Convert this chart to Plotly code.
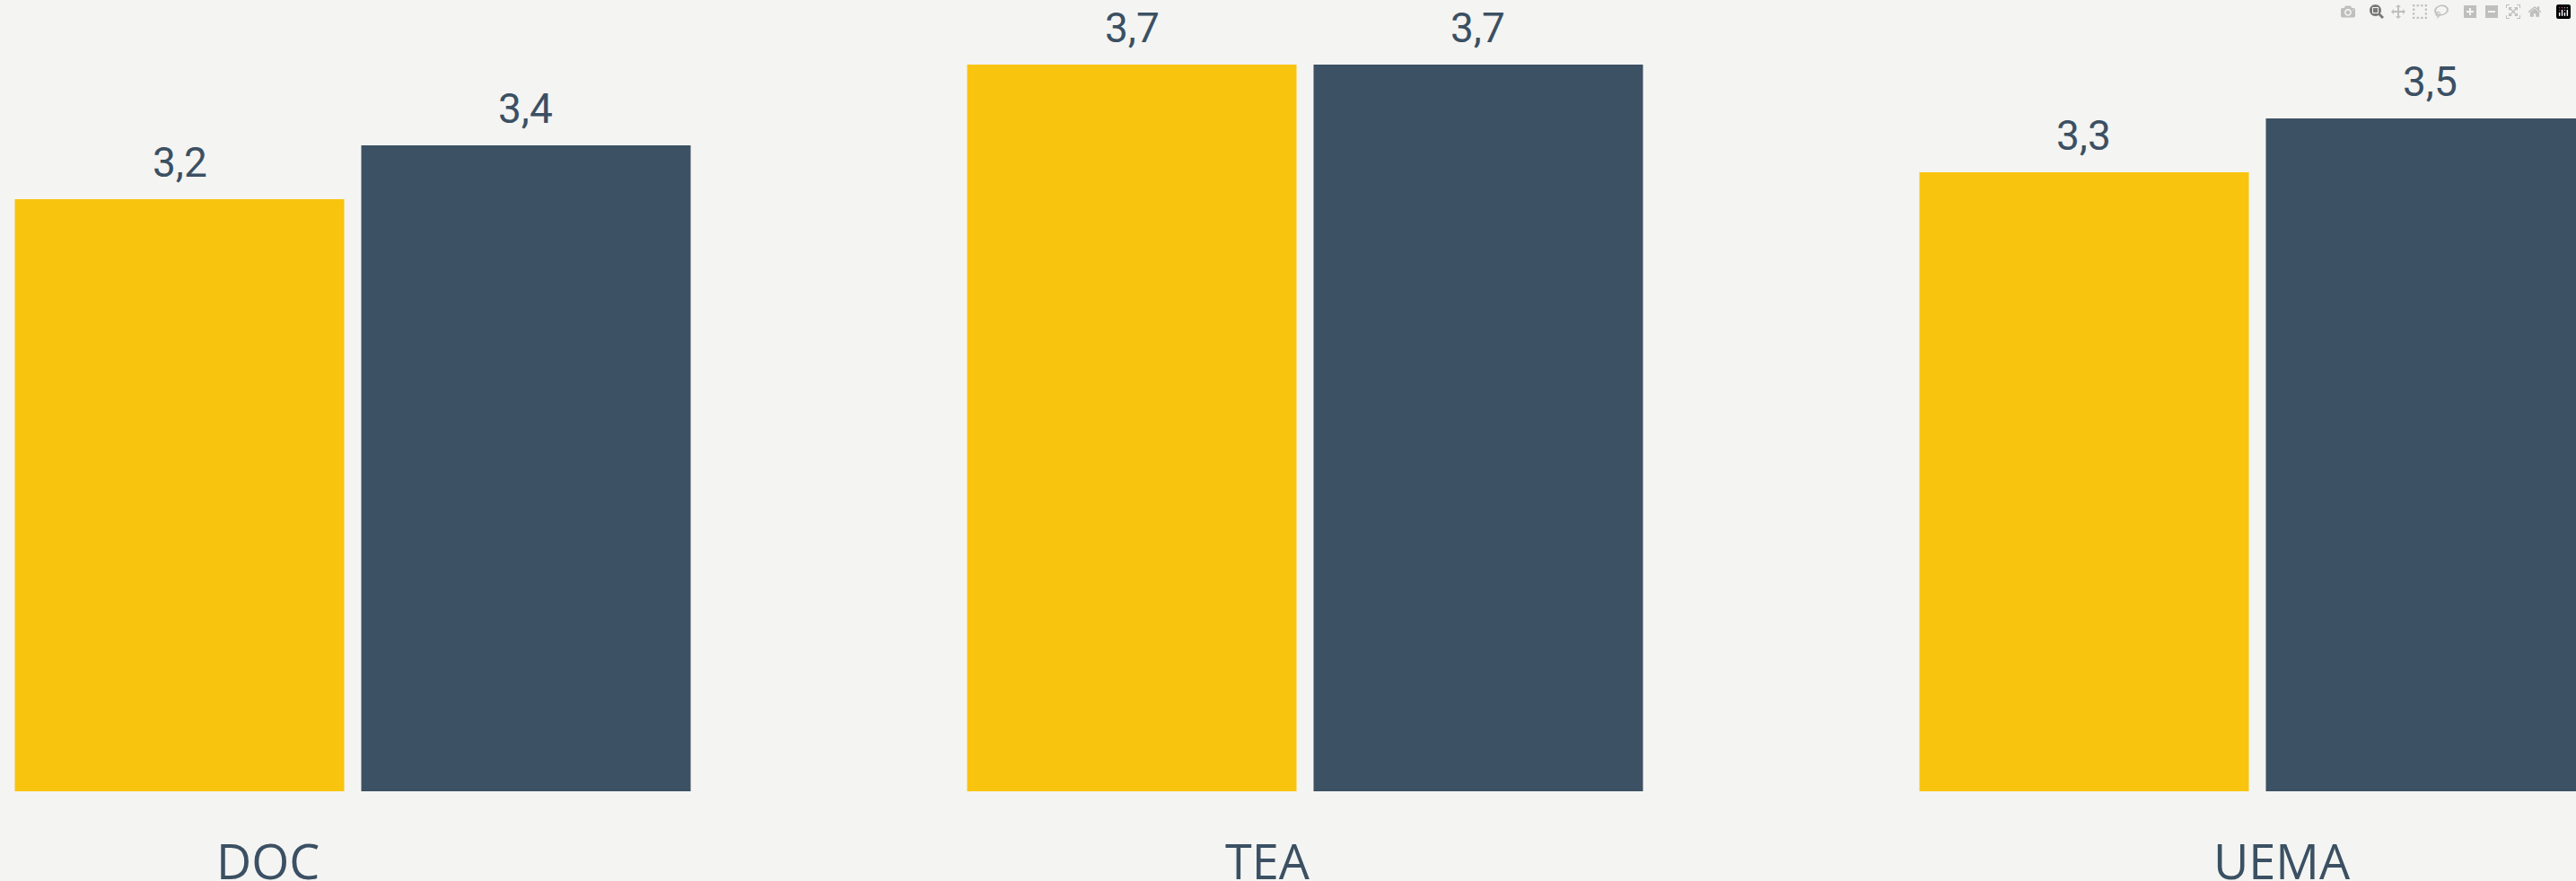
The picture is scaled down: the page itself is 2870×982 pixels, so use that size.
import plotly.graph_objects as go

categories = ["DOC", "TEA", "UEMA"]
series_a = [3.2, 3.7, 3.3]   # yellow
series_b = [3.4, 3.7, 3.5]   # dark
labels_a = ["3,2", "3,7", "3,3"]
labels_b = ["3,4", "3,7", "3,5"]

YELLOW = "#f9c40e"
DARK = "#3c5163"
TEXT = "#3b5063"
BG = "#f4f4f2"

xs = list(range(len(categories)))
bargap = 0.2724
groupgap = 0.0492
slot = (1 - bargap) / 2

fig = go.Figure()
fig.add_trace(go.Bar(x=xs, y=series_a, marker=dict(color=YELLOW, line=dict(width=0)), name="A"))
fig.add_trace(go.Bar(x=xs, y=series_b, marker=dict(color=DARK, line=dict(width=0)), name="B"))

annotations = []
for i in xs:
    for val, lab, off in ((series_a[i], labels_a[i], -slot / 2), (series_b[i], labels_b[i], slot / 2)):
        annotations.append(dict(x=i + off, y=val, xref="x", yref="y", text=lab, showarrow=False,
                                yanchor="bottom", yshift=12,
                                font=dict(family="Roboto, Arial, sans-serif", size=46, color=TEXT)))

label_shift = [-94, -41, 28]
for i, c in enumerate(categories):
    annotations.append(dict(x=i, y=0, xref="x", yref="paper", text=c, showarrow=False,
                            xshift=label_shift[i], yanchor="middle", yshift=-77,
                            font=dict(family="Open Sans, Noto Sans, sans-serif", size=54, color=TEXT)))

fig.update_layout(
    width=2870, height=982,
    margin=dict(l=0, r=0, t=0, b=100),
    paper_bgcolor=BG, plot_bgcolor=BG,
    barmode="group", bargap=bargap, bargroupgap=groupgap,
    showlegend=False,
    annotations=annotations,
    xaxis=dict(range=[-0.3704, 2.3346], showticklabels=False, showgrid=False, zeroline=False,
               showline=False, ticks=""),
    yaxis=dict(range=[1, 3.94], showticklabels=False, showgrid=False, zeroline=False,
               showline=False, ticks=""),
)

fig.write_html(
    "out.html",
    post_script="document.body.style.margin='0';document.body.style.overflow='hidden';"
                "document.body.style.background='" + BG + "';",
)
